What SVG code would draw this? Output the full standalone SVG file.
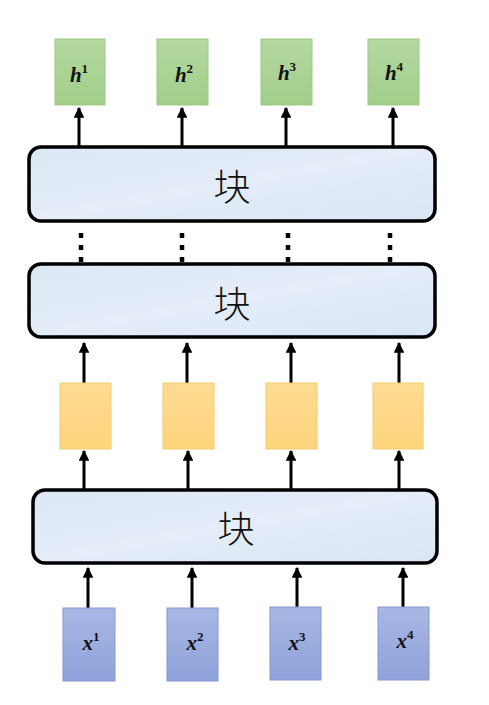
<svg xmlns="http://www.w3.org/2000/svg" width="489" height="705" viewBox="0 0 489 705">
<defs>
<style>
.blk{fill:url(#gBlk);stroke:#000;stroke-width:3.5}
.grn{fill:url(#gGrn);stroke:#9cc886;stroke-width:1}
.yel{fill:url(#gYel);stroke:#f2cc6e;stroke-width:1}
.blu{fill:url(#gBlu);stroke:#8497d0;stroke-width:1}
.cn{font-family:"Noto Sans CJK SC","Noto Sans CJK JP",sans-serif;font-size:37px;font-weight:300;fill:#111;text-anchor:middle}
.lb{font-family:"Liberation Serif","DejaVu Serif",serif;font-style:italic;font-weight:bold;font-size:21px;fill:#111;text-anchor:middle}
.sup{font-size:13px;font-style:normal}
.ar{stroke:#000;stroke-width:3;fill:none;marker-end:url(#ah)}
.dt{stroke:#000;stroke-width:4.5;fill:none;stroke-dasharray:5 7}
</style>
<marker id="ah" viewBox="0 0 10 10" refX="9" refY="5" markerWidth="3.6" markerHeight="3.6" orient="auto" markerUnits="strokeWidth">
<path d="M0,0 L10,5 L0,10 z" fill="#000"/>
</marker>
<linearGradient id="gBlk" x1="0" y1="0" x2="1" y2="1">
<stop offset="0" stop-color="#dce8f5"/><stop offset="0.5" stop-color="#e4edf8"/><stop offset="1" stop-color="#d9e6f4"/>
</linearGradient>
<linearGradient id="gGrn" x1="0" y1="0" x2="0" y2="1">
<stop offset="0" stop-color="#b4d9a0"/><stop offset="1" stop-color="#a2cd8a"/>
</linearGradient>
<linearGradient id="gYel" x1="0" y1="0" x2="0" y2="1">
<stop offset="0" stop-color="#fedb94"/><stop offset="1" stop-color="#fdd57c"/>
</linearGradient>
<linearGradient id="gBlu" x1="0" y1="0" x2="0" y2="1">
<stop offset="0" stop-color="#a9b7e4"/><stop offset="1" stop-color="#8fa2da"/>
</linearGradient>
</defs>
<rect width="489" height="705" fill="#fff"/>

<g id="connectors">
<line class="ar" x1="79" y1="147" x2="79" y2="108"/>
<line class="ar" x1="182" y1="147" x2="182" y2="108"/>
<line class="ar" x1="286" y1="147" x2="286" y2="108"/>
<line class="ar" x1="393" y1="147" x2="393" y2="108"/>
<line class="dt" x1="81" y1="233" x2="81" y2="264"/>
<line class="dt" x1="182" y1="233" x2="182" y2="264"/>
<line class="dt" x1="288" y1="233" x2="288" y2="264"/>
<line class="dt" x1="390" y1="233" x2="390" y2="264"/>
<line class="ar" x1="84" y1="383" x2="84" y2="343"/>
<line class="ar" x1="187" y1="383" x2="187" y2="343"/>
<line class="ar" x1="291" y1="383" x2="291" y2="343"/>
<line class="ar" x1="399" y1="383" x2="399" y2="343"/>
<line class="ar" x1="84" y1="490" x2="84" y2="451"/>
<line class="ar" x1="188" y1="490" x2="188" y2="451"/>
<line class="ar" x1="291" y1="490" x2="291" y2="451"/>
<line class="ar" x1="399" y1="490" x2="399" y2="451"/>
<line class="ar" x1="88" y1="608" x2="88" y2="568"/>
<line class="ar" x1="192" y1="608" x2="192" y2="568"/>
<line class="ar" x1="297" y1="608" x2="297" y2="568"/>
<line class="ar" x1="403" y1="608" x2="403" y2="568"/>
</g>

<g id="h1"><rect class="grn" x="55" y="39" width="50" height="66"/><text class="lb" x="79" y="82">h<tspan class="sup" dy="-9">1</tspan></text></g>
<g id="h2"><rect class="grn" x="157" y="39" width="51" height="66"/><text class="lb" x="184" y="82">h<tspan class="sup" dy="-9">2</tspan></text></g>
<g id="h3"><rect class="grn" x="261" y="39" width="51" height="66"/><text class="lb" x="287" y="80">h<tspan class="sup" dy="-9">3</tspan></text></g>
<g id="h4"><rect class="grn" x="368" y="39" width="51" height="66"/><text class="lb" x="394" y="80">h<tspan class="sup" dy="-9">4</tspan></text></g>

<g id="block3"><rect class="blk" x="29" y="147" width="406" height="74" rx="12"/><text class="cn" x="232" y="201">块</text></g>
<g id="block2"><rect class="blk" x="29" y="264" width="406" height="73" rx="12"/><text class="cn" x="232" y="318">块</text></g>

<g id="y1"><rect class="yel" x="60" y="383" width="51" height="66"/></g>
<g id="y2"><rect class="yel" x="163" y="383" width="51" height="66"/></g>
<g id="y3"><rect class="yel" x="266" y="383" width="51" height="66"/></g>
<g id="y4"><rect class="yel" x="373" y="383" width="50" height="66"/></g>

<g id="block1"><rect class="blk" x="33" y="490" width="404" height="73" rx="12"/><text class="cn" x="236" y="543">块</text></g>

<g id="x1"><rect class="blu" x="63" y="608" width="52" height="73"/><text class="lb" x="91" y="650">x<tspan class="sup" dy="-9">1</tspan></text></g>
<g id="x2"><rect class="blu" x="167" y="608" width="51" height="73"/><text class="lb" x="195" y="650">x<tspan class="sup" dy="-9">2</tspan></text></g>
<g id="x3"><rect class="blu" x="270" y="607" width="51" height="73"/><text class="lb" x="297" y="650">x<tspan class="sup" dy="-9">3</tspan></text></g>
<g id="x4"><rect class="blu" x="378" y="607" width="51" height="73"/><text class="lb" x="405" y="648">x<tspan class="sup" dy="-9">4</tspan></text></g>
</svg>
